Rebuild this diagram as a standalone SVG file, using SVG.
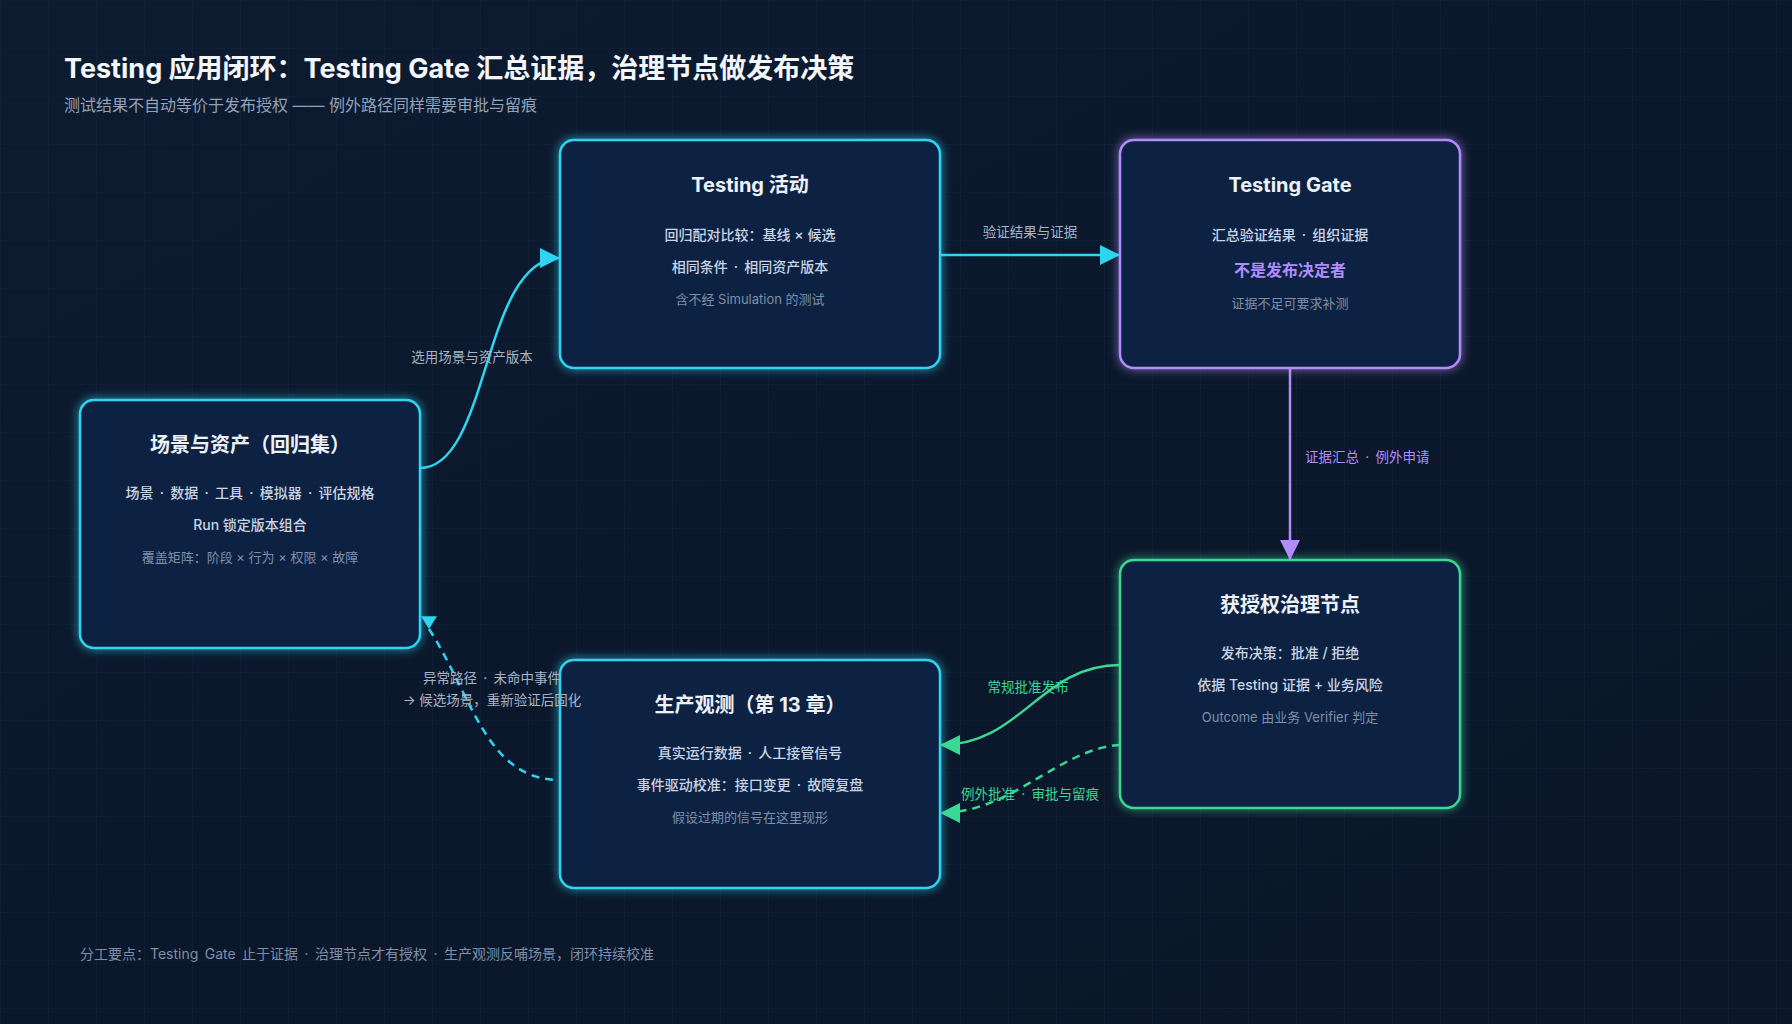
<svg xmlns="http://www.w3.org/2000/svg" width="1792" height="1024" viewBox="0 0 1792 1024">
  <defs>
    <linearGradient id="bg" x1="0" y1="0" x2="1" y2="1">
      <stop offset="0" stop-color="#0d1b31"/>
      <stop offset="0.5" stop-color="#0b182c"/>
      <stop offset="1" stop-color="#0b1628"/>
    </linearGradient>
    <pattern id="grid" width="48" height="48" patternUnits="userSpaceOnUse">
      <path d="M48 0 L0 0 0 48" fill="none" stroke="#1b2c46" stroke-width="1" opacity="0.55"/>
    </pattern>
    <filter id="glow" x="-20%" y="-20%" width="140%" height="140%">
      <feGaussianBlur in="SourceGraphic" stdDeviation="5" result="b"/>
      <feMerge>
        <feMergeNode in="b"/>
        <feMergeNode in="SourceGraphic"/>
      </feMerge>
    </filter>
    <marker id="arrCyan" viewBox="0 0 20 20" refX="20" refY="10" markerWidth="20" markerHeight="20" markerUnits="userSpaceOnUse" orient="auto">
      <path d="M0,0 L20,10 L0,20 z" fill="#2fd4f0"/>
    </marker>
    <marker id="arrCyanDown" viewBox="0 0 20 20" refX="20" refY="10" markerWidth="20" markerHeight="16" markerUnits="userSpaceOnUse" orient="90">
      <path d="M4,0 L20,10 L4,20 z" fill="#2fd4f0"/>
    </marker>
    <marker id="arrPurple" viewBox="0 0 20 20" refX="20" refY="10" markerWidth="20" markerHeight="20" markerUnits="userSpaceOnUse" orient="auto">
      <path d="M0,0 L20,10 L0,20 z" fill="#b38cfb"/>
    </marker>
    <marker id="arrGreen" viewBox="0 0 20 20" refX="20" refY="10" markerWidth="20" markerHeight="20" markerUnits="userSpaceOnUse" orient="auto">
      <path d="M0,0 L20,10 L0,20 z" fill="#3ad795"/>
    </marker>
  </defs>
  <style>
    text { font-family: Inter, "Noto Sans CJK SC", "Noto Sans", sans-serif; }
    .box { fill: #0e2142; stroke-width: 2.5; filter: url(#glow); }
    .cyan { stroke: #2fd4f0; }
    .purple { stroke: #b38cfb; }
    .green { stroke: #3ad795; }
    .ntitle { font-size: 20px; font-weight: 700; fill: #eef2f8; text-anchor: middle; }
    .body { font-size: 14px; font-weight: 500; fill: #c9d4e4; text-anchor: middle; }
    .dim { font-size: 13px; fill: #7f8fa8; text-anchor: middle; }
    .accent { font-size: 16px; font-weight: 700; fill: #b38cfb; text-anchor: middle; }
    .ws { word-spacing: 2.5px; }
    .edge { fill: none; stroke-width: 2.5; }
    .dash { stroke-dasharray: 8 6; }
    .elabel { font-size: 13.5px; fill: #a7b4c8; }
    .elabel-p { font-size: 13.5px; fill: #b38cfb; }
    .elabel-g { font-size: 13.5px; fill: #3ad795; }
  </style>

  <rect width="1792" height="1024" fill="url(#bg)"/>
  <rect width="1792" height="1024" fill="url(#grid)"/>

  <g id="header">
    <text x="64" y="78" font-size="27" font-weight="700" fill="#f3f6fb">Testing 应用闭环：Testing Gate 汇总证据，治理节点做发布决策</text>
    <text x="64" y="111" font-size="16" fill="#93a2b8">测试结果不自动等价于发布授权 —— 例外路径同样需要审批与留痕</text>
  </g>

  <g id="node-scenes">
    <rect class="box cyan" x="80" y="400" width="340" height="248" rx="14"/>
    <text class="ntitle" x="250" y="452">场景与资产（回归集）</text>
    <text class="body ws" x="250" y="498">场景 · 数据 · 工具 · 模拟器 · 评估规格</text>
    <text class="body" x="250" y="530">Run 锁定版本组合</text>
    <text class="dim" x="250" y="562">覆盖矩阵：阶段 × 行为 × 权限 × 故障</text>
  </g>

  <g id="node-testing">
    <rect class="box cyan" x="560" y="140" width="380" height="228" rx="14"/>
    <text class="ntitle" x="750" y="192">Testing 活动</text>
    <text class="body" x="750" y="240">回归配对比较：基线 × 候选</text>
    <text class="body ws" x="750" y="272">相同条件 · 相同资产版本</text>
    <text class="dim" x="750" y="304">含不经 Simulation 的测试</text>
  </g>

  <g id="node-gate">
    <rect class="box purple" x="1120" y="140" width="340" height="228" rx="14"/>
    <text class="ntitle" x="1290" y="192">Testing Gate</text>
    <text class="body ws" x="1290" y="240">汇总验证结果 · 组织证据</text>
    <text class="accent" x="1290" y="276">不是发布决定者</text>
    <text class="dim" x="1290" y="308">证据不足可要求补测</text>
  </g>

  <g id="node-governance">
    <rect class="box green" x="1120" y="560" width="340" height="248" rx="14"/>
    <text class="ntitle" x="1290" y="612">获授权治理节点</text>
    <text class="body" x="1290" y="658">发布决策：批准 / 拒绝</text>
    <text class="body" x="1290" y="690">依据 Testing 证据 + 业务风险</text>
    <text class="dim" x="1290" y="722">Outcome 由业务 Verifier 判定</text>
  </g>

  <g id="node-production">
    <rect class="box cyan" x="560" y="660" width="380" height="228" rx="14"/>
    <text class="ntitle" x="750" y="712">生产观测（第 13 章）</text>
    <text class="body ws" x="750" y="758">真实运行数据 · 人工接管信号</text>
    <text class="body ws" x="750" y="790">事件驱动校准：接口变更 · 故障复盘</text>
    <text class="dim" x="750" y="822">假设过期的信号在这里现形</text>
  </g>

  <g id="connectors">
    <path class="edge cyan" d="M420,468 C490,468 482,258 560,258" marker-end="url(#arrCyan)"/>
    <path class="edge cyan" d="M940,255 L1120,255" marker-end="url(#arrCyan)"/>
    <path class="edge purple" d="M1290,369 L1290,560" marker-end="url(#arrPurple)"/>
    <path class="edge green" d="M1120,665 C1040,665 1022,745 940,745" marker-end="url(#arrGreen)"/>
    <path class="edge green dash" d="M1120,745 C1060,748 1012,813 940,813" marker-end="url(#arrGreen)"/>
    <path class="edge cyan dash" d="M429,629 C472,695 486,780 560,780" marker-start="url(#arrCyanDown)"/>
    <text class="elabel" x="472" y="362" text-anchor="middle">选用场景与资产版本</text>
    <text class="elabel" x="1030" y="237" text-anchor="middle">验证结果与证据</text>
    <text class="elabel-p ws" x="1305" y="462">证据汇总 · 例外申请</text>
    <text class="elabel-g" x="1028" y="692" text-anchor="middle">常规批准发布</text>
    <text class="elabel-g ws" x="1030" y="799" text-anchor="middle">例外批准 · 审批与留痕</text>
    <text class="elabel ws" x="492" y="683" text-anchor="middle">异常路径 · 未命中事件</text>
    <text class="elabel" x="492" y="705" text-anchor="middle">→ 候选场景，重新验证后固化</text>
  </g>

  <g id="footer">
    <text class="ws" x="80" y="959" font-size="14" fill="#7f8fa8">分工要点：Testing Gate 止于证据 · 治理节点才有授权 · 生产观测反哺场景，闭环持续校准</text>
  </g>
</svg>
